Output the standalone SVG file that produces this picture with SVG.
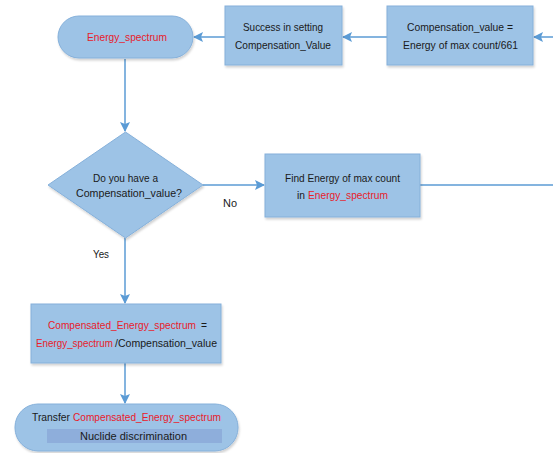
<svg xmlns="http://www.w3.org/2000/svg" width="553" height="453" viewBox="0 0 553 453">
<defs>
<marker id="arr" markerWidth="10" markerHeight="10" refX="9" refY="5" orient="auto" markerUnits="userSpaceOnUse">
<path d="M0,0 L10,5 L0,10 L2,5 Z" fill="#5b9bd5"/>
</marker>
<filter id="sh" x="-10%" y="-10%" width="130%" height="130%">
<feDropShadow dx="1" dy="2" stdDeviation="1.2" flood-color="#000" flood-opacity="0.18"/>
</filter>
</defs>
<style>
.n{fill:#9dc3e6;stroke:#85b0da;stroke-width:1;filter:url(#sh)}
.c{stroke:#5b9bd5;stroke-width:1.5;fill:none}
text{font-family:"Liberation Sans",Arial,sans-serif;font-size:11.5px;fill:#1a1a1a;text-anchor:middle}
text.s{text-anchor:start}
text.m{font-size:10.2px}
.r{fill:#e8202a}
</style>
<rect width="553" height="453" fill="#fff"/>
<g id="connectors">
<line class="c" x1="553" y1="37" x2="534" y2="37" marker-end="url(#arr)"/>
<line class="c" x1="387" y1="37" x2="343" y2="37" marker-end="url(#arr)"/>
<line class="c" x1="225" y1="37" x2="194" y2="37" marker-end="url(#arr)"/>
<line class="c" x1="125" y1="59" x2="125" y2="131" marker-end="url(#arr)"/>
<line class="c" x1="203" y1="185" x2="264" y2="185" marker-end="url(#arr)"/>
<line class="c" x1="420" y1="185" x2="553" y2="185"/>
<line class="c" x1="125" y1="238" x2="125" y2="303" marker-end="url(#arr)"/>
<line class="c" x1="125" y1="363" x2="125" y2="403" marker-end="url(#arr)"/>
<text x="230" y="207" textLength="14" lengthAdjust="spacingAndGlyphs">No</text>
<text x="101" y="258" textLength="16" lengthAdjust="spacingAndGlyphs">Yes</text>
</g>
<g id="start">
<rect class="n" x="58" y="16" width="135" height="42" rx="21"/>
<text x="127" y="41" class="r" textLength="80" lengthAdjust="spacingAndGlyphs">Energy_spectrum</text>
</g>
<g id="success">
<rect class="n" x="225" y="6" width="117" height="59"/>
<text x="283" y="31" textLength="80" lengthAdjust="spacingAndGlyphs">Success in setting</text>
<text x="283" y="49" textLength="96" lengthAdjust="spacingAndGlyphs">Compensation_Value</text>
</g>
<g id="compvalue">
<rect class="n" x="387" y="6" width="146" height="59"/>
<text x="460" y="31" textLength="106" lengthAdjust="spacingAndGlyphs">Compensation_value =</text>
<text x="460.5" y="49" textLength="115" lengthAdjust="spacingAndGlyphs">Energy of max count/661</text>
</g>
<g id="decision">
<polygon class="n" points="125.5,132 203,185 125.5,238 48,185"/>
<text x="125.5" y="182" textLength="65" lengthAdjust="spacingAndGlyphs">Do you have a</text>
<text x="129" y="197" textLength="106" lengthAdjust="spacingAndGlyphs">Compensation_value?</text>
</g>
<g id="find">
<rect class="n" x="265" y="154" width="155" height="63"/>
<text x="342.5" y="182" textLength="115" lengthAdjust="spacingAndGlyphs">Find Energy of max count</text>
<text class="s" x="297" y="199" textLength="8" lengthAdjust="spacingAndGlyphs">in</text>
<text class="s r" x="308" y="199" textLength="80" lengthAdjust="spacingAndGlyphs">Energy_spectrum</text>
</g>
<g id="compensated">
<rect class="n" x="31" y="304" width="190" height="59"/>
<text class="s r m" x="48" y="329" textLength="148" lengthAdjust="spacingAndGlyphs">Compensated_Energy_spectrum</text>
<text class="s m" x="201" y="329" textLength="6" lengthAdjust="spacingAndGlyphs">=</text>
<text class="s r m" x="36" y="347" textLength="77" lengthAdjust="spacingAndGlyphs">Energy_spectrum</text>
<text class="s m" x="115" y="347" textLength="102" lengthAdjust="spacingAndGlyphs">/Compensation_value</text>
</g>
<g id="transfer">
<rect class="n" x="15" y="404" width="223" height="47" rx="23"/>
<text class="s m" x="32" y="421" textLength="38" lengthAdjust="spacingAndGlyphs">Transfer</text>
<text class="s r m" x="73" y="421" textLength="148" lengthAdjust="spacingAndGlyphs">Compensated_Energy_spectrum</text>
<rect x="47" y="429" width="175" height="14" fill="#8eaedb"/>
<text x="133.5" y="440" style="font-size:10px" textLength="107" lengthAdjust="spacingAndGlyphs">Nuclide discrimination</text>
</g>
</svg>
